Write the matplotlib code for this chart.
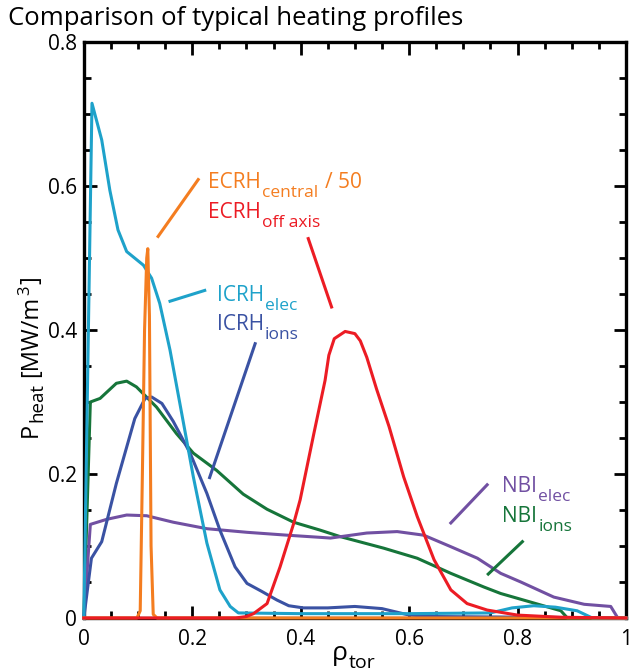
import numpy as np
import matplotlib
matplotlib.use("Agg")
import matplotlib.pyplot as plt
from matplotlib.ticker import MultipleLocator

plt.rcParams["font.family"] = ["Open Sans", "DejaVu Sans"]

# heating power density profiles vs normalised toroidal radius
icrh_elec_x = [0.0, 0.015, 0.033, 0.048, 0.063, 0.079, 0.110, 0.125, 0.140, 0.159,
               0.184, 0.202, 0.227, 0.251, 0.270, 0.285, 0.40, 0.60, 0.75, 0.79,
               0.83, 0.87, 0.91, 0.938, 1.0]
icrh_elec_y = [0.0, 0.715, 0.664, 0.594, 0.539, 0.509, 0.490, 0.472, 0.437, 0.372,
               0.270, 0.196, 0.104, 0.039, 0.016, 0.007, 0.006, 0.006, 0.007, 0.014,
               0.017, 0.015, 0.010, 0.0, 0.0]

icrh_ions_x = [0.0, 0.014, 0.033, 0.060, 0.094, 0.113, 0.125, 0.144, 0.165, 0.196,
               0.227, 0.251, 0.279, 0.301, 0.328, 0.356, 0.378, 0.405, 0.45, 0.50,
               0.55, 0.60, 0.65, 1.0]
icrh_ions_y = [0.0, 0.083, 0.106, 0.187, 0.277, 0.305, 0.307, 0.298, 0.273, 0.229,
               0.173, 0.122, 0.071, 0.048, 0.037, 0.025, 0.017, 0.014, 0.014, 0.016,
               0.013, 0.004, 0.002, 0.0]

ecrh_central_x = [0.0, 0.098, 0.104, 0.108, 0.112, 0.116, 0.118, 0.121, 0.124, 0.128, 0.135, 1.0]
ecrh_central_y = [0.0, 0.0, 0.01, 0.20, 0.40, 0.50, 0.513, 0.42, 0.10, 0.005, 0.0, 0.0]

ecrh_off_x = [0.0, 0.28, 0.30, 0.313, 0.338, 0.362, 0.387, 0.399, 0.424, 0.445, 0.452,
              0.462, 0.482, 0.500, 0.510, 0.522, 0.540, 0.563, 0.590, 0.615, 0.646,
              0.677, 0.707, 0.744, 0.80, 0.88, 1.0]
ecrh_off_y = [0.0, 0.0, 0.002, 0.006, 0.020, 0.071, 0.131, 0.164, 0.255, 0.330, 0.365,
              0.388, 0.398, 0.395, 0.385, 0.362, 0.318, 0.266, 0.196, 0.141, 0.081,
              0.039, 0.020, 0.011, 0.004, 0.001, 0.0]

nbi_elec_x = [0.0, 0.012, 0.042, 0.079, 0.116, 0.165, 0.227, 0.301, 0.375, 0.436, 0.455,
              0.522, 0.578, 0.627, 0.677, 0.726, 0.769, 0.806, 0.867, 0.923, 0.972, 0.985, 1.0]
nbi_elec_y = [0.0, 0.130, 0.137, 0.143, 0.142, 0.133, 0.124, 0.119, 0.115, 0.112, 0.111,
              0.118, 0.120, 0.115, 0.099, 0.083, 0.062, 0.050, 0.029, 0.019, 0.016, 0.0, 0.0]

nbi_ions_x = [0.0, 0.012, 0.030, 0.060, 0.079, 0.097, 0.134, 0.171, 0.202, 0.245, 0.294,
              0.338, 0.387, 0.436, 0.473, 0.553, 0.615, 0.677, 0.738, 0.769, 0.806,
              0.880, 0.892, 1.0]
nbi_ions_y = [0.0, 0.300, 0.305, 0.326, 0.329, 0.321, 0.293, 0.256, 0.229, 0.205, 0.172,
              0.151, 0.133, 0.122, 0.113, 0.097, 0.083, 0.062, 0.043, 0.034, 0.026,
              0.010, 0.0, 0.0]

x_ticks = [0, 0.2, 0.4, 0.6, 0.8, 1.0]
x_ticklabels = ["0", "0.2", "0.4", "0.6", "0.8", "1"]
y_ticks = [0, 0.2, 0.4, 0.6, 0.8]
y_ticklabels = ["0", "0.2", "0.4", "0.6", "0.8"]

C_ICRH_E = "#1ea2ca"
C_ICRH_I = "#3a52a3"
C_ECRH_C = "#f47d20"
C_ECRH_O = "#ec1c24"
C_NBI_E = "#7150a2"
C_NBI_I = "#16753a"

fig = plt.figure(figsize=(6.4, 6.72), dpi=100)
ax = fig.add_axes([0.131, 0.0804, 0.847, 0.857])
renderer = fig.canvas.get_renderer()


def rich(x, y, pieces, color, coords, rotation=0):
    """Lay out (text, size, baseline shift, gap before) pieces one after another."""
    th = np.deg2rad(rotation)
    adv = 0.0
    for s, size, shift, gap in pieces:
        adv += gap
        dx = adv * np.cos(th) - shift * np.sin(th)
        dy = adv * np.sin(th) + shift * np.cos(th)
        t = ax.annotate(s, xy=(x, y), xycoords=coords, xytext=(dx, dy),
                        textcoords="offset points", fontsize=size, color=color,
                        rotation=rotation, rotation_mode="anchor", ha="left",
                        va="baseline", annotation_clip=False)
        bb = t.get_window_extent(renderer)
        adv += (bb.width if rotation == 0 else bb.height) * 72 / fig.dpi


lw = 2.2
series = [
    (nbi_ions_x, nbi_ions_y, C_NBI_I),
    (nbi_elec_x, nbi_elec_y, C_NBI_E),
    (icrh_ions_x, icrh_ions_y, C_ICRH_I),
    (icrh_elec_x, icrh_elec_y, C_ICRH_E),
    (ecrh_central_x, ecrh_central_y, C_ECRH_C),
    (ecrh_off_x, ecrh_off_y, C_ECRH_O),
]
for xs, ys, c in series:
    ax.plot(xs, ys, color=c, lw=lw, zorder=3, clip_on=False, solid_joinstyle="round")

# curve labels with leader lines
fs, fs_sub, drop = 15, 12.5, -6.5
labels = [
    (0.229, 0.597, "ECRH", "central", "/ 50", C_ECRH_C, (0.137, 0.530), (0.211, 0.609)),
    (0.229, 0.556, "ECRH", "off axis", None, C_ECRH_O, (0.414, 0.527), (0.457, 0.432)),
    (0.245, 0.441, "ICRH", "elec", None, C_ICRH_E, (0.159, 0.440), (0.223, 0.455)),
    (0.245, 0.400, "ICRH", "ions", None, C_ICRH_I, (0.232, 0.195), (0.316, 0.381)),
    (0.772, 0.175, "NBI", "elec", None, C_NBI_E, (0.677, 0.132), (0.744, 0.185)),
    (0.772, 0.133, "NBI", "ions", None, C_NBI_I, (0.746, 0.061), (0.809, 0.106)),
]
for tx, ty, main, sub, tail, c, p0, p1 in labels:
    pieces = [(main, fs, 0, 0), (sub, fs_sub, drop, 0.6)]
    if tail:
        pieces.append((tail, fs, 0, 5))
    rich(tx, ty, pieces, c, "data")
    ax.plot([p0[0], p1[0]], [p0[1], p1[1]], color=c, lw=lw, zorder=3)

ax.set_xlim(0, 1)
ax.set_ylim(0, 0.8)
ax.set_xticks(x_ticks, x_ticklabels)
ax.set_yticks(y_ticks, y_ticklabels)
ax.xaxis.set_minor_locator(MultipleLocator(0.05))
ax.yaxis.set_minor_locator(MultipleLocator(0.05))
ax.tick_params(which="both", direction="in", top=True, right=True, width=2.0,
               labelsize=15)
ax.tick_params(axis="x", pad=8)
ax.tick_params(axis="y", pad=5)
ax.tick_params(which="major", length=9)
ax.tick_params(which="minor", length=5)
for s in ax.spines.values():
    s.set_linewidth(2.4)

# axis titles
rich(332 / 640, 12 / 672, [("ρ", 19, 0, 0), ("tor", 14, -6, 0.5)], "black",
     "figure fraction")
rich(37 / 640, 235 / 672,
     [("P", 17, 0, 0), ("heat", 13.5, -3.6, 0.5), ("[MW/m", 17, 0, 4.5),
      ("3", 12, 5.5, 0.5), ("]", 17, 0, 1)],
     "black", "figure fraction", rotation=90)

fig.text(8 / 640, 1 - 25 / 672, "Comparison of typical heating profiles", fontsize=18.5,
         ha="left", va="baseline")

fig.savefig("out.png", dpi=100)
